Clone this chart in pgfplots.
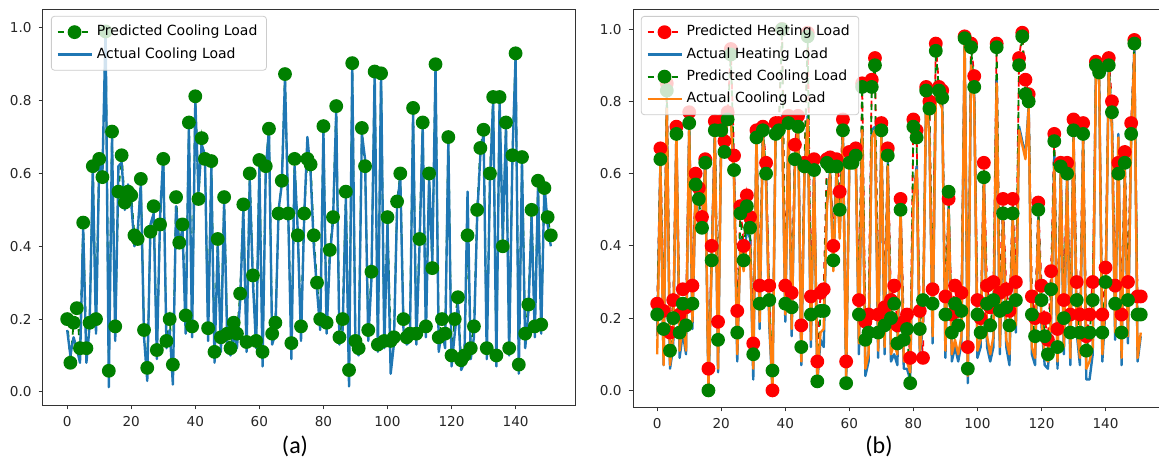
\documentclass[border=0pt]{standalone}
\usepackage{pgfplots}
\pgfplotsset{compat=1.18}
\usepackage{pgfplotstable}
\usepackage{fontspec}
\setmainfont{DejaVu Sans}
\newfontfamily\carlito{Carlito}
\definecolor{mplblue}{HTML}{1F77B4}
\definecolor{mplorange}{HTML}{FF7F0E}
\definecolor{mplgreen}{HTML}{008000}
\definecolor{mplred}{HTML}{FF0000}

\pgfplotstableread{
x P A
0 0.20 0.17
1 0.08 0.10
2 0.19 0.15
3 0.23 0.12
4 0.12 0.08
5 0.465 0.45
6 0.12 0.08
7 0.19 0.18
8 0.62 0.61
9 0.20 0.16
10 0.64 0.63
11 0.59 0.60
12 0.99 1.00
13 0.058 0.013
14 0.715 0.70
15 0.18 0.14
16 0.55 0.62
17 0.65 0.63
18 0.52 0.50
19 0.55 0.57
20 0.54 0.52
21 0.43 0.40
22 0.42 0.44
23 0.585 0.57
24 0.17 0.15
25 0.066 0.03
26 0.44 0.46
27 0.51 0.49
28 0.115 0.09
29 0.46 0.48
30 0.64 0.65
31 0.14 0.12
32 0.20 0.17
33 0.075 0.02
34 0.535 0.51
35 0.41 0.40
36 0.46 0.45
37 0.21 0.16
38 0.74 0.73
39 0.18 0.15
40 0.812 0.80
41 0.53 0.55
42 0.697 0.68
43 0.64 0.65
44 0.175 0.14
45 0.634 0.62
46 0.11 0.08
47 0.42 0.40
48 0.15 0.11
49 0.535 0.52
50 0.16 0.13
51 0.12 0.10
52 0.19 0.16
53 0.16 0.12
54 0.27 0.25
55 0.515 0.50
56 0.137 0.11
57 0.60 0.58
58 0.32 0.30
59 0.14 0.12
60 0.637 0.62
61 0.11 0.07
62 0.62 0.61
63 0.723 0.72
64 0.16 0.13
65 0.19 0.16
66 0.49 0.50
67 0.58 0.57
68 0.873 0.86
69 0.49 0.50
70 0.134 0.09
71 0.64 0.62
72 0.43 0.44
73 0.18 0.14
74 0.49 0.48
75 0.64 0.70
76 0.625 0.60
77 0.43 0.40
78 0.30 0.28
79 0.20 0.17
80 0.73 0.72
81 0.19 0.16
82 0.39 0.37
83 0.48 0.47
84 0.785 0.77
85 0.15 0.13
86 0.20 0.17
87 0.55 0.53
88 0.06 0.015
89 0.903 0.89
90 0.14 0.12
91 0.12 0.10
92 0.725 0.71
93 0.62 0.64
94 0.17 0.14
95 0.33 0.31
96 0.88 0.88
97 0.13 0.11
98 0.875 0.88
99 0.14 0.12
100 0.48 0.46
101 0.14 0.05
102 0.15 0.13
103 0.523 0.51
104 0.60 0.59
105 0.20 0.17
106 0.15 0.13
107 0.16 0.14
108 0.78 0.77
109 0.16 0.13
110 0.42 0.40
111 0.74 0.73
112 0.18 0.15
113 0.60 0.59
114 0.34 0.36
115 0.90 0.89
116 0.15 0.11
117 0.20 0.17
118 0.16 0.12
119 0.70 0.69
120 0.10 0.07
121 0.20 0.16
122 0.26 0.24
123 0.087 0.06
124 0.10 0.08
125 0.43 0.55
126 0.12 0.09
127 0.18 0.15
128 0.50 0.48
129 0.67 0.65
130 0.72 0.71
131 0.12 0.09
132 0.60 0.58
133 0.81 0.80
134 0.10 0.07
135 0.81 0.80
136 0.40 0.42
137 0.74 0.73
138 0.12 0.10
139 0.65 0.64
140 0.93 0.92
141 0.075 0.05
142 0.645 0.63
143 0.16 0.12
144 0.24 0.22
145 0.50 0.48
146 0.18 0.15
147 0.58 0.56
148 0.185 0.16
149 0.56 0.57
150 0.48 0.46
151 0.43 0.40
}\tabA

\pgfplotstableread{
x R HA G CA
0 0.24 0.15 0.21 0.10
1 0.67 0.63 0.64 0.62
2 0.22 0.07 0.17 0.07
3 0.85 0.79 0.83 0.78
4 0.16 0.06 0.11 0.07
5 0.25 0.12 0.20 0.15
6 0.73 0.72 0.71 0.72
7 0.21 0.09 0.16 0.11
8 0.28 0.16 0.24 0.19
9 0.23 0.10 0.18 0.11
10 0.77 0.73 0.74 0.72
11 0.29 0.17 0.24 0.19
12 0.60 0.56 0.57 0.55
13 0.56 0.46 0.53 0.44
14 0.48 0.45 0.45 0.44
15 0.64 0.63 0.63 0.62
16 0.06 0.00 0.00 0.01
17 0.40 0.35 0.36 0.34
18 0.745 0.71 0.72 0.70
19 0.19 0.05 0.14 0.06
20 0.745 0.71 0.72 0.70
21 0.69 0.67 0.66 0.66
22 0.77 0.77 0.75 0.76
23 0.945 0.76 0.93 0.75
24 0.65 0.59 0.61 0.58
25 0.22 0.08 0.16 0.10
26 0.51 0.42 0.49 0.40
27 0.40 0.34 0.36 0.33
28 0.54 0.45 0.51 0.41
29 0.48 0.42 0.45 0.40
30 0.13 0.03 0.10 0.06
31 0.72 0.71 0.70 0.70
32 0.29 0.17 0.24 0.19
33 0.73 0.71 0.72 0.70
34 0.63 0.58 0.60 0.57
35 0.29 0.18 0.25 0.20
36 0.00 0.00 0.055 0.00
37 0.74 0.74 0.71 0.74
38 0.74 0.71 0.72 0.70
39 1.00 0.76 1.00 0.75
40 0.29 0.19 0.24 0.21
41 0.76 0.74 0.74 0.74
42 0.27 0.15 0.23 0.17
43 0.68 0.63 0.64 0.62
44 0.76 0.74 0.73 0.73
45 0.18 0.07 0.12 0.08
46 0.63 0.61 0.62 0.60
47 0.99 0.76 0.98 0.75
48 0.26 0.12 0.21 0.14
49 0.64 0.61 0.61 0.60
50 0.08 0.02 0.025 0.03
51 0.27 0.14 0.22 0.16
52 0.28 0.12 0.22 0.17
53 0.64 0.52 0.63 0.51
54 0.645 0.61 0.62 0.60
55 0.40 0.34 0.36 0.33
56 0.64 0.61 0.62 0.60
57 0.55 0.44 0.50 0.42
58 0.75 0.71 0.72 0.70
59 0.08 0.02 0.02 0.03
60 0.66 0.63 0.63 0.62
61 0.65 0.63 0.63 0.62
62 0.67 0.65 0.65 0.64
63 0.25 0.10 0.21 0.13
64 0.85 0.73 0.84 0.72
65 0.19 0.04 0.14 0.06
66 0.21 0.08 0.16 0.10
67 0.86 0.72 0.84 0.70
68 0.92 0.73 0.90 0.72
69 0.21 0.09 0.16 0.11
70 0.74 0.71 0.72 0.70
71 0.23 0.10 0.18 0.12
72 0.67 0.63 0.65 0.62
73 0.25 0.08 0.20 0.10
74 0.29 0.10 0.24 0.13
75 0.18 0.07 0.13 0.10
76 0.53 0.50 0.50 0.50
77 0.19 0.06 0.14 0.08
78 0.21 0.06 0.17 0.08
79 0.09 0.03 0.02 0.05
80 0.75 0.53 0.73 0.52
81 0.72 0.62 0.70 0.61
82 0.22 0.10 0.17 0.11
83 0.09 0.18 0.25 0.20
84 0.84 0.83 0.83 0.82
85 0.80 0.71 0.78 0.70
86 0.28 0.13 0.24 0.15
87 0.96 0.83 0.94 0.82
88 0.84 0.81 0.83 0.80
89 0.83 0.79 0.81 0.78
90 0.26 0.09 0.21 0.11
91 0.53 0.51 0.55 0.50
92 0.21 0.08 0.16 0.10
93 0.29 0.12 0.24 0.14
94 0.22 0.08 0.18 0.10
95 0.27 0.13 0.22 0.15
96 0.98 0.97 0.975 0.97
97 0.12 0.02 0.06 0.04
98 0.96 0.91 0.95 0.90
99 0.87 0.81 0.84 0.80
100 0.25 0.09 0.21 0.11
101 0.20 0.12 0.16 0.14
102 0.63 0.59 0.59 0.58
103 0.29 0.12 0.24 0.15
104 0.23 0.08 0.18 0.10
105 0.30 0.12 0.25 0.15
106 0.96 0.86 0.95 0.85
107 0.27 0.10 0.22 0.12
108 0.53 0.49 0.49 0.48
109 0.28 0.12 0.23 0.14
110 0.22 0.07 0.18 0.10
111 0.53 0.49 0.49 0.48
112 0.30 0.16 0.25 0.18
113 0.92 0.73 0.90 0.72
114 0.99 0.69 0.98 0.68
115 0.86 0.65 0.82 0.64
116 0.82 0.79 0.80 0.78
117 0.26 0.10 0.21 0.12
118 0.20 0.07 0.15 0.09
119 0.52 0.48 0.50 0.47
120 0.29 0.18 0.25 0.20
121 0.20 0.07 0.15 0.09
122 0.14 0.06 0.10 0.08
123 0.33 0.18 0.28 0.20
124 0.71 0.65 0.69 0.62
125 0.17 0.06 0.12 0.08
126 0.63 0.61 0.62 0.60
127 0.25 0.10 0.20 0.12
128 0.63 0.59 0.60 0.58
129 0.21 0.07 0.16 0.09
130 0.75 0.71 0.72 0.70
131 0.30 0.16 0.25 0.18
132 0.21 0.07 0.16 0.09
133 0.74 0.70 0.71 0.69
134 0.15 0.03 0.11 0.06
135 0.21 0.03 0.16 0.08
136 0.30 0.10 0.25 0.12
137 0.91 0.89 0.90 0.88
138 0.89 0.87 0.88 0.86
139 0.21 0.08 0.16 0.10
140 0.34 0.23 0.30 0.25
141 0.92 0.89 0.90 0.88
142 0.80 0.73 0.77 0.72
143 0.29 0.14 0.24 0.16
144 0.63 0.71 0.60 0.70
145 0.21 0.07 0.16 0.09
146 0.66 0.62 0.63 0.61
147 0.30 0.13 0.25 0.15
148 0.74 0.70 0.71 0.69
149 0.97 0.94 0.96 0.93
150 0.26 0.08 0.21 0.09
151 0.26 0.15 0.21 0.16
}\tabB

\pgfplotsset{
  myaxis/.style={
    scale only axis,
    anchor=north west,
    xmin=-7.55,
    xtick={0,20,...,140},
    ytick={0,0.2,...,1.0},
    yticklabel style={/pgf/number format/.cd,fixed,fixed zerofill,precision=1},
    /pgf/number format/assume math mode=true,
    tick label style={font=\fontsize{6.8}{8}\selectfont, text=black!85},
    tick align=outside,
    tick pos=left,
    major tick length=2.2pt,
    every tick/.style={black!80, line width=0.4pt},
    axis line style={black!80, line width=0.5pt},
    legend cell align=left,
    legend style={at={(0.015,0.985)}, anchor=north west,
      font=\fontsize{7}{8}\selectfont, draw=black!20, rounded corners=1.5pt,
      fill=white, fill opacity=0.8, text opacity=1, draw opacity=1,
      inner xsep=2.5pt, inner ysep=2.5pt, row sep=0.3pt},
    legend image code/.code={%
      \draw[mark repeat=2,mark phase=2,#1, opacity=1]
        plot coordinates {(0pt,0pt) (8.5pt,0pt) (17pt,0pt)};},
  },
  predstyle/.style={color=#1, dashed, line width=0.9pt, mark=*,
      mark size=3pt, mark options={solid, fill=#1, draw=#1}},
  actstyle/.style={color=#1, solid, line width=1.2pt, no markers, line join=round},
}

\begin{document}
\begin{tikzpicture}
\path[use as bounding box] (0,0) rectangle (579.5pt,230.5pt);

\begin{axis}[myaxis, at={(21.5pt,225.5pt)}, width=266pt, height=197.5pt,
  xmax=158.55, ymin=-0.036, ymax=1.049]
\addplot[predstyle=mplgreen] table[x=x, y=P] {\tabA};
\addlegendentry{Predicted Cooling Load}
\addplot[actstyle=mplblue] table[x=x, y=A] {\tabA};
\addlegendentry{Actual Cooling Load}
\end{axis}

\begin{axis}[myaxis, at={(316.5pt,225.5pt)}, width=263pt, height=198.5pt,
  xmax=156.7, ymin=-0.046, ymax=1.053]
\addplot[predstyle=mplred] table[x=x, y=R] {\tabB};
\addlegendentry{Predicted Heating Load}
\addplot[actstyle=mplblue] table[x=x, y=HA] {\tabB};
\addlegendentry{Actual Heating Load}
\addplot[predstyle=mplgreen] table[x=x, y=G] {\tabB};
\addlegendentry{Predicted Cooling Load}
\addplot[actstyle=mplorange] table[x=x, y=CA] {\tabB};
\addlegendentry{Actual Cooling Load}
\end{axis}

\node[font=\carlito\fontsize{12}{14}\selectfont] at (147.5pt,7.5pt) {(a)};
\node[font=\carlito\fontsize{12}{14}\selectfont] at (439.5pt,7.5pt) {(b)};
\end{tikzpicture}
\end{document}
